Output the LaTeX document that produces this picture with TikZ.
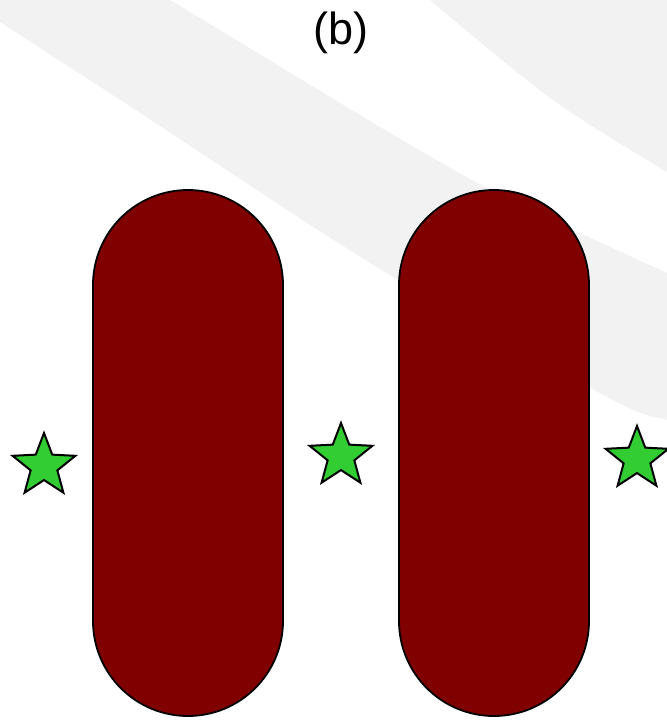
\documentclass[tikz,border=0pt]{standalone}
\usepackage{fontspec}
\setmainfont{Liberation Sans}
\usetikzlibrary{shapes.geometric}

\definecolor{cellred}{RGB}{128,0,0}
\definecolor{stargreen}{RGB}{50,205,50}
\definecolor{bandgray}{RGB}{242,242,242}

\begin{document}
\begin{tikzpicture}[x=1pt,y=-1pt]

    % Styles
    \tikzstyle{cell_body} = [draw=black, fill=cellred, line width=1.8pt,
        rounded corners=95pt, minimum width=190pt, minimum height=526pt, inner sep=0pt]
    \tikzstyle{mark_star} = [star, star points=5, star point ratio=2.35,
        draw=black, fill=stargreen, line width=2pt, minimum size=66pt, inner sep=0pt]
    \tikzstyle{panel_label} = [font=\fontsize{45}{50}\selectfont, inner sep=0pt]

    % Column X positions of the two cells
    \def\cellone{188}
    \def\celltwo{494}

    % Page and faint background bands
    \fill[white] (0,0) rectangle (667,721);
    \useasboundingbox (0,0) rectangle (667,721);
    \begin{scope}
        \clip (0,0) rectangle (667,721);
        \fill[bandgray] plot[smooth] coordinates {(-30,-118) (170,0) (380,127) (485,187) (580,233) (667,273) (710,292)}
            -- plot[smooth] coordinates {(710,436) (667,420) (613,400) (380,269) (125,103) (0,22) (-30,3)} -- cycle;
        \fill[bandgray] plot[smooth] coordinates {(400,-30) (430,0) (553,100) (667,172) (710,196)}
            -- (710,-30) -- cycle;
    \end{scope}

    % Title
    \node[panel_label] (title) at (341,33) {(b)};

    % Cells
    \node[cell_body] (cellA) at (\cellone,453) {};
    \node[cell_body] (cellB) at (\celltwo,453) {};

    % Stars beside the cells
    \node[mark_star] (starA) at (44,466) {};
    \node[mark_star] (starB) at (341,456) {};
    \node[mark_star] (starC) at (637,459) {};

\end{tikzpicture}
\end{document}
